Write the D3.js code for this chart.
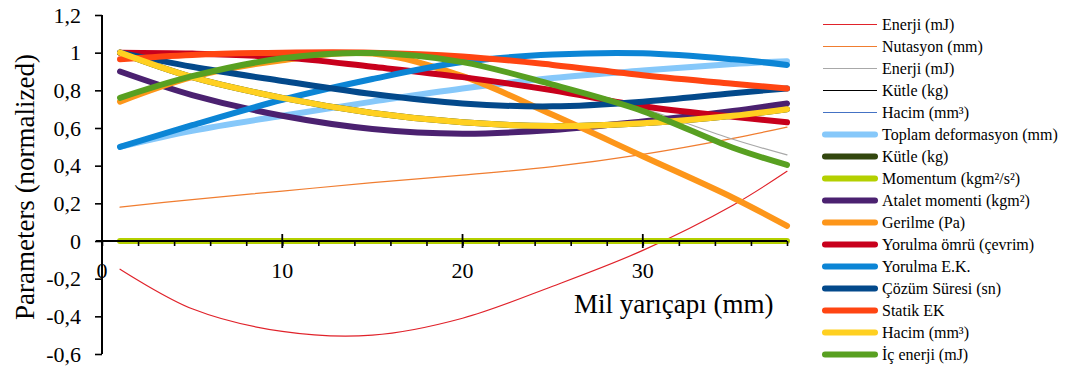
<!DOCTYPE html>
<html>
<head>
<meta charset="utf-8">
<script src="https://cdn.jsdelivr.net/npm/d3@7"></script>
<style>
  html, body { margin: 0; padding: 0; background: #fff; }
  svg, svg text { font-family: "Liberation Serif", "Times New Roman", Times, serif; }
</style>
</head>
<body>
<svg id="chart" width="1065" height="370"></svg>
<script>
// Shaft radius (mm) at which each parameter was evaluated
const radius = [1, 5, 10, 15, 20, 25, 30, 35, 38];

// Normalized parameter values, one array per series
const enerjiRed      = [-0.15, -0.36, -0.48, -0.50, -0.41, -0.24, -0.05, 0.19, 0.37];
const nutasyon       = [0.18, 0.22, 0.265, 0.31, 0.35, 0.395, 0.46, 0.545, 0.605];
const enerjiGray     = [0.76, 0.875, 0.97, 0.998, 0.95, 0.835, 0.705, 0.54, 0.457];
const kutleThin      = [1.0, 0.87, 0.76, 0.68, 0.63, 0.61, 0.625, 0.665, 0.70];
const hacimThin      = [1.0, 0.87, 0.76, 0.68, 0.63, 0.61, 0.625, 0.665, 0.70];
const toplamDef      = [0.50, 0.585, 0.665, 0.74, 0.81, 0.865, 0.905, 0.94, 0.955];
const kutleThick     = [1.0, 0.87, 0.76, 0.68, 0.63, 0.61, 0.625, 0.665, 0.70];
const momentum       = [0, 0, 0, 0, 0, 0, 0, 0, 0];
const ataletMomenti  = [0.90, 0.775, 0.665, 0.595, 0.57, 0.59, 0.635, 0.69, 0.73];
const gerilme        = [0.74, 0.87, 0.96, 0.995, 0.875, 0.67, 0.45, 0.23, 0.08];
const yorulmaOmru    = [1.0, 0.995, 0.975, 0.925, 0.87, 0.80, 0.715, 0.66, 0.63];
const yorulmaEK      = [0.50, 0.615, 0.75, 0.86, 0.95, 0.99, 0.997, 0.965, 0.935];
const cozumSuresi    = [1.0, 0.925, 0.85, 0.78, 0.73, 0.715, 0.74, 0.785, 0.81];
const statikEK       = [0.965, 0.988, 1.0, 1.0, 0.98, 0.935, 0.88, 0.835, 0.81];
const hacimThick     = [1.0, 0.87, 0.76, 0.68, 0.63, 0.61, 0.625, 0.665, 0.70];
const icEnerji       = [0.76, 0.875, 0.97, 0.998, 0.95, 0.83, 0.69, 0.495, 0.404];

// Axis tick values and their labels
const yTicks = [1.2, 1, 0.8, 0.6, 0.4, 0.2, 0, -0.2, -0.4, -0.6];
const yTickLabels = ["1,2", "1", "0,8", "0,6", "0,4", "0,2", "0", "-0,2", "-0,4", "-0,6"];
const xTicks = [0, 10, 20, 30];
const xTickLabels = ["0", "10", "20", "30"];

// Series in legend order (thin lines are drawn first, thick lines on top)
const series = [
  { name: "Enerji (mJ)",               values: enerjiRed,     color: "#e0222a", thick: false },
  { name: "Nutasyon (mm)",             values: nutasyon,      color: "#f07d30", thick: false },
  { name: "Enerji (mJ)",               values: enerjiGray,    color: "#a8a8a8", thick: false },
  { name: "Kütle (kg)",                values: kutleThin,     color: "#000000", thick: false },
  { name: "Hacim (mm³)",               values: hacimThin,     color: "#4472c4", thick: false },
  { name: "Toplam deformasyon (mm)",   values: toplamDef,     color: "#86c8fa", thick: true },
  { name: "Kütle (kg)",                values: kutleThick,    color: "#33470f", thick: true },
  { name: "Momentum (kgm²/s²)",        values: momentum,      color: "#b4d000", thick: true },
  { name: "Atalet momenti (kgm²)",     values: ataletMomenti, color: "#4b2170", thick: true },
  { name: "Gerilme (Pa)",              values: gerilme,       color: "#fd961a", thick: true },
  { name: "Yorulma ömrü (çevrim)",     values: yorulmaOmru,   color: "#c8001c", thick: true },
  { name: "Yorulma E.K.",              values: yorulmaEK,     color: "#0c85d5", thick: true },
  { name: "Çözüm Süresi (sn)",         values: cozumSuresi,   color: "#03498b", thick: true },
  { name: "Statik EK",                 values: statikEK,      color: "#ff4512", thick: true },
  { name: "Hacim (mm³)",               values: hacimThick,    color: "#ffd021", thick: true },
  { name: "İç enerji (mJ)",            values: icEnerji,      color: "#58a021", thick: true }
];

const FONT = "'Liberation Serif', 'Times New Roman', Times, serif";
const svg = d3.select("#chart");

const x = d3.scaleLinear().domain([0, 38]).range([102, 787]);
const y = d3.scaleLinear().domain([-0.6, 1.2]).range([354, 15]);

const THICK = 6, THIN = 1.2;

// ---- Lines ----
const line = d3.line()
  .x((d, i) => x(radius[i]))
  .y(d => y(d))
  .curve(d3.curveCatmullRom.alpha(0.5));

const plot = svg.append("g");
const ordered = series.filter(s => !s.thick).concat(series.filter(s => s.thick));
plot.selectAll("path.series")
  .data(ordered)
  .join("path")
  .attr("class", "series")
  .attr("d", s => line(s.values))
  .attr("fill", "none")
  .attr("stroke", s => s.color)
  .attr("stroke-width", s => s.thick ? THICK : THIN)
  .attr("stroke-linecap", "round")
  .attr("stroke-linejoin", "round");

// ---- Y axis ----
const yAxisG = svg.append("g").attr("transform", `translate(${x(0)},0)`);
yAxisG.call(
  d3.axisLeft(y)
    .tickValues(d3.range(-0.6, 1.2001, 0.04))
    .tickSize(5)
    .tickFormat("")
);
yAxisG.call(
  d3.axisLeft(y)
    .tickValues(yTicks)
    .tickSize(7)
    .tickFormat((d, i) => yTickLabels[i])
    .tickPadding(14)
);
yAxisG.attr("font-family", FONT);
yAxisG.selectAll(".domain").attr("stroke", "#000").attr("stroke-width", 2).attr("d", `M0,${y(1.2)}V${y(-0.6)}`);
yAxisG.selectAll(".tick line").attr("stroke", "#000").attr("stroke-width", 1.6);
yAxisG.selectAll(".tick text")
  .attr("font-size", 22)
  .attr("font-family", FONT)
  .attr("fill", "#000");

// ---- X axis (at y = 0) ----
const xAxisG = svg.append("g").attr("transform", `translate(0,${y(0)})`);
xAxisG.call(
  d3.axisBottom(x)
    .tickValues(d3.range(0, 38.001, 2))
    .tickSize(5)
    .tickFormat("")
);
xAxisG.attr("font-family", FONT);
xAxisG.selectAll(".domain").attr("stroke", "#000").attr("stroke-width", 2).attr("d", `M${x(0) - 6},0H${x(38)}`);
xAxisG.selectAll(".tick line").attr("stroke", "#000").attr("stroke-width", 1.6);
const xMajor = xAxisG.selectAll("g.major")
  .data(xTicks)
  .join("g")
  .attr("class", "major")
  .attr("transform", d => `translate(${x(d)},0)`);
xMajor.append("line").attr("y1", -7).attr("y2", 7).attr("stroke", "#000").attr("stroke-width", 1.8);
xMajor.append("text")
  .attr("y", 37)
  .attr("text-anchor", "middle")
  .attr("font-size", 22)
  .attr("font-family", FONT)
  .attr("fill", "#000")
  .text((d, i) => xTickLabels[i]);

// ---- Axis titles ----
svg.append("text")
  .attr("transform", `translate(34,187) rotate(-90)`)
  .attr("text-anchor", "middle")
  .attr("font-size", 27)
  .attr("font-family", FONT)
  .attr("fill", "#000")
  .text("Parameters (normalized)");

svg.append("text")
  .attr("x", 574)
  .attr("y", 313)
  .attr("font-size", 27)
  .attr("font-family", FONT)
  .attr("fill", "#000")
  .text("Mil yarıçapı (mm)");

// ---- Legend ----
const legend = svg.append("g").attr("transform", "translate(823,24.5)");
const rows = legend.selectAll("g.row")
  .data(series)
  .join("g")
  .attr("class", "row")
  .attr("transform", (d, i) => `translate(0,${i * 22})`);
rows.append("line")
  .attr("x1", s => s.thick ? 2 : 0)
  .attr("x2", s => s.thick ? 52 : 54)
  .attr("stroke", s => s.color)
  .attr("stroke-width", s => s.thick ? THICK : THIN)
  .attr("stroke-linecap", s => s.thick ? "round" : "butt");
rows.append("text")
  .attr("x", 59)
  .attr("dy", "0.35em")
  .attr("font-size", 16)
  .attr("font-family", FONT)
  .attr("fill", "#000")
  .text(s => s.name);
</script>
</body>
</html>
